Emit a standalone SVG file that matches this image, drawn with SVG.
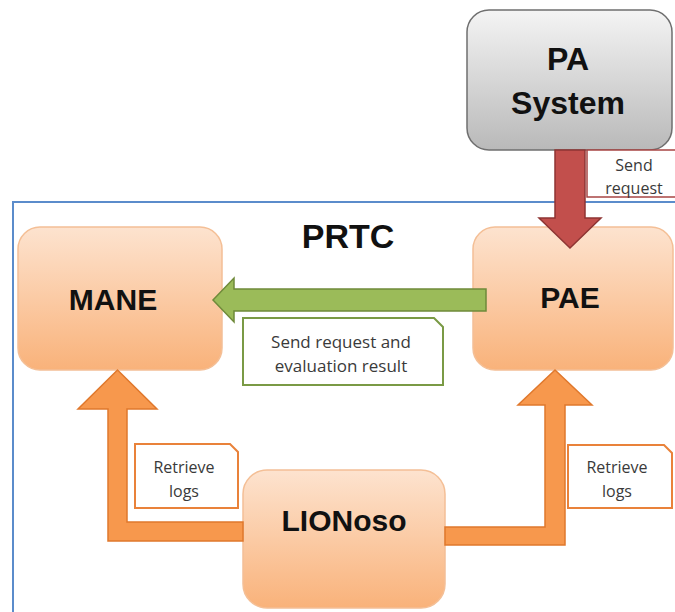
<svg xmlns="http://www.w3.org/2000/svg" width="675" height="612" viewBox="0 0 675 612">
  <defs>
    <linearGradient id="peach" x1="0" y1="0" x2="0" y2="1">
      <stop offset="0" stop-color="#fde3cf"/>
      <stop offset="1" stop-color="#f9b27a"/>
    </linearGradient>
    <linearGradient id="grey" x1="0" y1="0" x2="0" y2="1">
      <stop offset="0" stop-color="#f4f4f4"/>
      <stop offset="1" stop-color="#b9b9b9"/>
    </linearGradient>
    <style>
      .node { fill: url(#peach); stroke: #f4bf96; stroke-width: 1.5; }
      .sys { fill: url(#grey); stroke: #6f6f6f; stroke-width: 1.5; }
      .title { font-family: "Liberation Sans", "Open Sans", sans-serif; font-weight: bold; fill: #111; text-anchor: middle; }
      .lbl { font-family: "Open Sans", "Liberation Sans", sans-serif; font-size: 16px; fill: #3a3a3a; text-anchor: middle; }
      .lbl-big { font-size: 17px; }
      .note-o { fill: #fff; stroke: #e9823a; stroke-width: 2; }
      .note-g { fill: #fff; stroke: #7a9a45; stroke-width: 2; }
      .note-r { fill: #fff; stroke: #a84644; stroke-width: 1.5; }
      .arr-o { fill: #f7984d; stroke: #e0782c; stroke-width: 1.5; stroke-linejoin: miter; }
      .arr-g { fill: #9bbb59; stroke: #6f8a3a; stroke-width: 1.5; }
      .arr-r { fill: #c24f4c; stroke: #8e3533; stroke-width: 1.5; }
    </style>
  </defs>

  <rect width="675" height="612" fill="#ffffff"/>

  <!-- PRTC container -->
  <g id="prtc">
    <rect x="13" y="202" width="680" height="430" fill="#ffffff" stroke="#5b8ccb" stroke-width="2"/>
    <text class="title" x="348" y="248" font-size="34">PRTC</text>
  </g>

  <!-- nodes -->
  <g id="pa-system">
    <rect class="sys" x="467" y="10" width="205" height="140" rx="22"/>
    <text class="title" x="568" y="70" font-size="32">PA</text>
    <text class="title" x="568" y="114" font-size="32">System</text>
  </g>

  <g id="mane">
    <rect class="node" x="18" y="227" width="204" height="143" rx="22"/>
    <text class="title" x="113" y="310" font-size="30">MANE</text>
  </g>

  <g id="pae">
    <rect class="node" x="473" y="227" width="200" height="143" rx="22"/>
    <text class="title" x="570" y="308" font-size="30">PAE</text>
  </g>

  <g id="lionoso">
    <rect class="node" x="243" y="470" width="202" height="138" rx="24"/>
    <text class="title" x="344" y="531" font-size="30">LIONoso</text>
  </g>

  <!-- connectors -->
  <g id="connectors">
    <!-- PA System to PAE -->
    <path class="arr-r" d="M555,150 L585,150 L585,218 L601,218 L570,248 L539,218 L555,218 Z"/>
    <!-- PAE to MANE -->
    <path class="arr-g" d="M486,289 L234,289 L234,278 L213,300 L234,322 L234,311 L486,311 Z"/>
    <!-- LIONoso to MANE -->
    <path class="arr-o" d="M243,522 L127,522 L127,409 L157,409 L117.5,370 L78,409 L108,409 L108,541 L243,541 Z"/>
    <!-- LIONoso to PAE -->
    <path class="arr-o" d="M445,527 L545,527 L545,405 L518,405 L555,370 L592,405 L565,405 L565,545 L445,545 Z"/>
  </g>

  <!-- connector labels -->
  <g id="label-send-request">
    <path class="note-r" d="M587,150 L690,150 L690,197 L587,197 Z"/>
    <text class="lbl" x="634" y="171">Send</text>
    <text class="lbl" x="634" y="194">request</text>
  </g>

  <g id="label-send-evaluation">
    <path class="note-g" d="M243,318 L434,318 L443,327 L443,385 L243,385 Z"/>
    <text class="lbl lbl-big" x="341" y="348">Send request and</text>
    <text class="lbl lbl-big" x="341" y="372">evaluation result</text>
  </g>

  <g id="label-retrieve-left">
    <path class="note-o" d="M135,444 L230,444 L238,452 L238,508 L135,508 Z"/>
    <text class="lbl" x="184" y="473">Retrieve</text>
    <text class="lbl" x="184" y="497">logs</text>
  </g>

  <g id="label-retrieve-right">
    <path class="note-o" d="M568,445 L664,445 L672,453 L672,508 L568,508 Z"/>
    <text class="lbl" x="617" y="473">Retrieve</text>
    <text class="lbl" x="617" y="497">logs</text>
  </g>
</svg>
